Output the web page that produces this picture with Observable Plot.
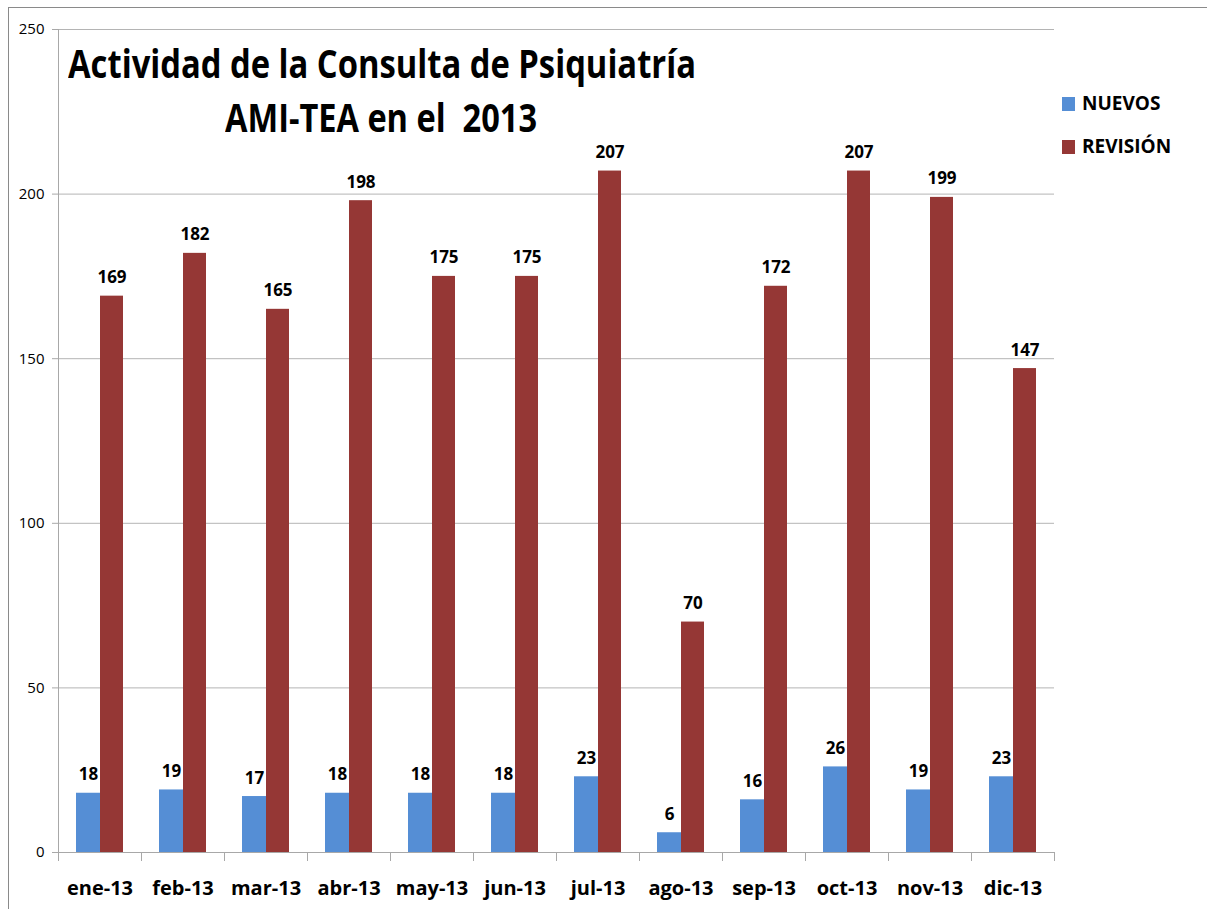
<!DOCTYPE html>
<html><head><meta charset="utf-8">
<script src="https://cdn.jsdelivr.net/npm/d3@7"></script>
<script src="https://cdn.jsdelivr.net/npm/@observablehq/plot@0.6"></script>
<style>
html,body{margin:0;padding:0;background:#fff;font-family:"Open Sans",sans-serif;}
#wrap{position:relative;width:1207px;height:909px;overflow:hidden;}
#frame{position:absolute;left:8px;top:7px;width:1220px;height:920px;border-top:1.5px solid #8a8a8a;border-left:1.5px solid #8a8a8a;box-sizing:border-box;}
.title{position:absolute;font-weight:700;font-size:39px;line-height:1;white-space:pre;color:#000;transform-origin:left top;}
.leg{position:absolute;font-weight:700;font-size:19px;line-height:1;white-space:pre;color:#000;}
.sw{position:absolute;width:13px;height:14px;}
#chart{position:absolute;left:0;top:0;}
</style></head><body>
<div id="wrap"><div id="frame"></div><div id="chart"></div></div>
<script>
const months = ["ene-13","feb-13","mar-13","abr-13","may-13","jun-13","jul-13","ago-13","sep-13","oct-13","nov-13","dic-13"];
const series = ["NUEVOS","REVISIÓN"];
const nuevos = [18,19,17,18,18,18,23,6,16,26,19,23];
const revision = [169,182,165,198,175,175,207,70,172,207,199,147];
const yTicks = [0,50,100,150,200,250];
const titleLines = ["Actividad de la Consulta de Psiquiatría","AMI-TEA en el  2013"];
const colors = ["#558ED5","#953735"];

const nuevosData = months.map((m,i)=>({month:m, serie:series[0], value:nuevos[i]}));
const revData = months.map((m,i)=>({month:m, serie:series[1], value:revision[i]}));

const chart = Plot.plot({
  width:1207, height:909,
  marginLeft:58, marginRight:153, marginTop:29, marginBottom:57,
  style:{fontFamily:"'Open Sans', sans-serif", background:"transparent", overflow:"visible", color:"#000"},
  x:{domain:months, padding:0},
  y:{domain:[0,250]},
  color:{domain:series, range:colors},
  marks:[
    Plot.gridY(yTicks.filter(t=>t>0), {stroke:"#b4b4b4", strokeOpacity:1}),
    Plot.barY(nuevosData, {x:"month", y:"value", fill:"serie", insetLeft:18, insetRight:41}),
    Plot.barY(revData, {x:"month", y:"value", fill:"serie", insetLeft:42, insetRight:18}),
    Plot.text(nuevosData, {x:"month", y:"value", text:d=>String(d.value), dx:-11.5, dy:-13, lineAnchor:"bottom", fontWeight:700, fontSize:17, fill:"#000"}),
    Plot.text(revData, {x:"month", y:"value", text:d=>String(d.value), dx:12, dy:-13, lineAnchor:"bottom", fontWeight:700, fontSize:17, fill:"#000"}),
    Plot.ruleY([0], {stroke:"#a8a8a8"}),
    Plot.frame({anchor:"left", stroke:"#a8a8a8"}),
    Plot.axisY({ticks:yTicks, tickSize:6, tickPadding:8, stroke:"#a8a8a8", fontSize:15, label:null, fill:"#000"}),
    Plot.axisX({tickSize:0, tickPadding:28, fontSize:20, fontWeight:700, label:null, fill:"#000"}),
    Plot.axisX({text:null, tickSize:9, dx:-41.5, stroke:"#a8a8a8", label:null}),
    Plot.axisX({ticks:[months[months.length-1]], text:null, tickSize:9, dx:41.5, stroke:"#a8a8a8", label:null})
  ]
});
document.getElementById("chart").appendChild(chart);

const wrap = document.getElementById("wrap");
// title: two centred lines, matched to the reference widths
const titleSpec = [{cx:382, base:78, w:628}, {cx:381, base:132, w:312}];
titleLines.forEach((t,i)=>{
  const d = document.createElement("div");
  d.className = "title";
  d.textContent = t;
  wrap.appendChild(d);
  const r = d.getBoundingClientRect();
  const s = titleSpec[i].w / r.width;
  d.style.top = (titleSpec[i].base - 0.888*39) + "px";
  d.style.left = (titleSpec[i].cx - titleSpec[i].w/2) + "px";
  d.style.transform = `scaleX(${s})`;
});
// legend
const legY = [97, 140];
series.forEach((s,i)=>{
  const sw = document.createElement("div");
  sw.className = "sw";
  sw.style.left = "1062px"; sw.style.top = legY[i] + "px";
  sw.style.background = colors[i];
  wrap.appendChild(sw);
  const t = document.createElement("div");
  t.className = "leg";
  t.textContent = s;
  t.style.left = "1082px";
  t.style.top = (legY[i] + 14 - 0.888*19) + "px";
  wrap.appendChild(t);
});
</script>
</body></html>
